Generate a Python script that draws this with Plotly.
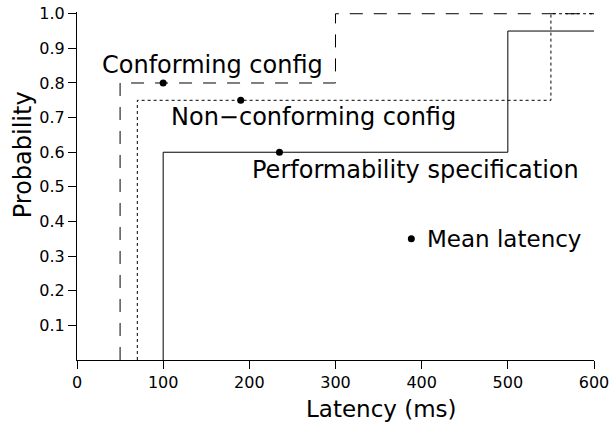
import plotly.graph_objects as go

# Step curves: (latency ms, probability) corner points
conf_x = [50, 50, 300, 600]
conf_y = [0.0, 0.8, 1.0, 1.0]
nonconf_x = [70, 70, 550, 600]
nonconf_y = [0.0, 0.75, 1.0, 1.0]
perf_x = [100, 100, 500, 600]
perf_y = [0.0, 0.6, 0.95, 0.95]

# Mean latency points
mean_x = [100, 190, 235]
mean_y = [0.8, 0.75, 0.6]
legend_dot_x = [388]
legend_dot_y = [0.35]

labels = ["Conforming config", "Non−conforming config", "Performability specification"]
label_x = [157, 274, 393]
label_y = [0.853, 0.702, 0.549]

x_ticks = [0, 100, 200, 300, 400, 500, 600]
y_ticks = [0.1, 0.2, 0.3, 0.4, 0.5, 0.6, 0.7, 0.8, 0.9, 1.0]
y_tick_text = ["0.1", "0.2", "0.3", "0.4", "0.5", "0.6", "0.7", "0.8", "0.9", "1.0"]

FONT = "DejaVu Sans"

fig = go.Figure()
fig.add_trace(go.Scatter(x=conf_x, y=conf_y, mode="lines", line_shape="hv",
                         line=dict(color="black", width=1, dash="13px,11px"), showlegend=False))
fig.add_trace(go.Scatter(x=nonconf_x, y=nonconf_y, mode="lines", line_shape="hv",
                         line=dict(color="black", width=1, dash="3px,3px"), showlegend=False))
fig.add_trace(go.Scatter(x=perf_x, y=perf_y, mode="lines", line_shape="hv",
                         line=dict(color="black", width=1), showlegend=False))
fig.add_trace(go.Scatter(x=mean_x, y=mean_y, mode="markers",
                         marker=dict(color="black", size=7), showlegend=False, cliponaxis=False))
fig.add_trace(go.Scatter(x=legend_dot_x, y=legend_dot_y, mode="markers",
                         marker=dict(color="black", size=7), showlegend=False))

for t, lx, ly in zip(labels, label_x, label_y):
    fig.add_annotation(x=lx, y=ly, text=t, showarrow=False, xanchor="center", yanchor="middle",
                       font=dict(family=FONT, size=24, color="black"))
fig.add_annotation(x=403.7, y=legend_dot_y[0], text="Mean latency", showarrow=False,
                   xanchor="left", yanchor="middle", font=dict(family=FONT, size=23, color="black"))

fig.add_annotation(xref="paper", yref="paper", x=0.589, y=-0.141, text="Latency (ms)",
                   showarrow=False, xanchor="center", yanchor="middle",
                   font=dict(family=FONT, size=23, color="black"))
fig.add_annotation(xref="paper", yref="paper", x=-0.104, y=0.589, text="Probability",
                   showarrow=False, textangle=-90, xanchor="center", yanchor="middle",
                   font=dict(family=FONT, size=24, color="black"))

fig.update_xaxes(range=[0, 600], tickvals=x_ticks, ticks="outside", ticklen=8, tickcolor="black",
                 showline=True, linecolor="black", linewidth=1, showgrid=False, zeroline=False,
                 automargin=False, tickfont=dict(family=FONT, size=16, color="black"))
fig.update_yaxes(range=[0, 1.005], tickvals=y_ticks, ticktext=y_tick_text, ticks="outside",
                 ticklen=8, tickcolor="black", showline=True, linecolor="black", linewidth=1,
                 showgrid=False, zeroline=False, automargin=False,
                 tickfont=dict(family=FONT, size=16, color="black"))

fig.update_layout(width=614, height=429, margin=dict(l=77, r=20, t=12, b=69, autoexpand=False),
                  plot_bgcolor="white", paper_bgcolor="white", font=dict(family=FONT))
fig.write_html("out.html", config={"displayModeBar": False},
               post_script="document.body.style.margin='0';document.body.style.overflow='hidden';")
